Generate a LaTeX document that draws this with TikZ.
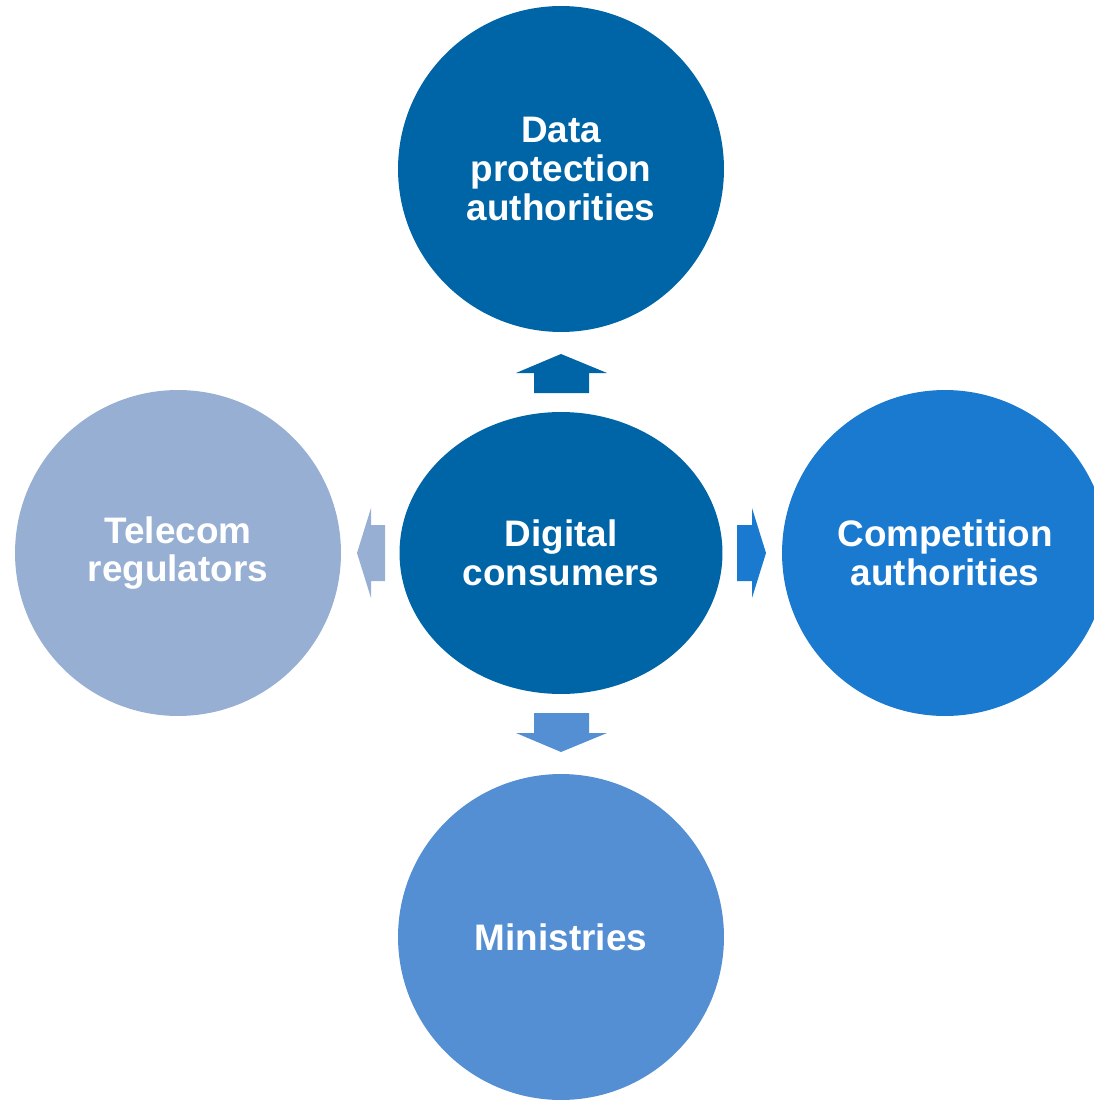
\documentclass[tikz,border=0pt]{standalone}
\usepackage{fontspec}
\setmainfont{Liberation Sans}
\usepackage{tikz}
\usetikzlibrary{shapes,shapes.geometric,positioning}

\definecolor{darkblue}{RGB}{0,101,166}
\definecolor{midblue}{RGB}{26,122,208}
\definecolor{softblue}{RGB}{84,143,212}
\definecolor{paleblue}{RGB}{150,175,211}

\begin{document}
\begin{tikzpicture}[
    x=0.02cm, y=-0.02cm,
    body/.style={circle, inner sep=0pt, minimum size=6.52cm, text=white, align=center,
        font=\fontsize{21}{22}\selectfont\bfseries},
    hub/.style={ellipse, inner sep=0pt, minimum width=6.46cm, minimum height=5.64cm, text=white,
        align=center, font=\fontsize{21}{22}\selectfont\bfseries}
]
\useasboundingbox (0,0) rectangle (1094,1101);

% hub and the four bodies round it
\node[hub, fill=darkblue] (consumers) at (561,553) {Digital\\consumers};
\node[body, fill=darkblue] (dpa) at (561,169) {Data\\protection\\authorities};
\node[body, fill=midblue] (competition) at (945,553) {Competition\\authorities};
\node[body, fill=softblue] (ministries) at (561,937) {Ministries};
\node[body, fill=paleblue] (telecom) at (178,553) {Telecom\\regulators};

% block arrows out of the hub
\fill[darkblue] (534,393) -- (534,373) -- (516,373) -- (561,354) -- (607,373) -- (589,373) -- (589,393) -- cycle;
\fill[softblue] (534,713) -- (534,733) -- (516,733) -- (561,752) -- (607,733) -- (589,733) -- (589,713) -- cycle;
\fill[midblue] (737,525) -- (752,525) -- (752,508) -- (766,553) -- (752,598) -- (752,581) -- (737,581) -- cycle;
\fill[paleblue] (385,525) -- (371,525) -- (371,508) -- (357,553) -- (371,598) -- (371,581) -- (385,581) -- cycle;

\end{tikzpicture}
\end{document}
